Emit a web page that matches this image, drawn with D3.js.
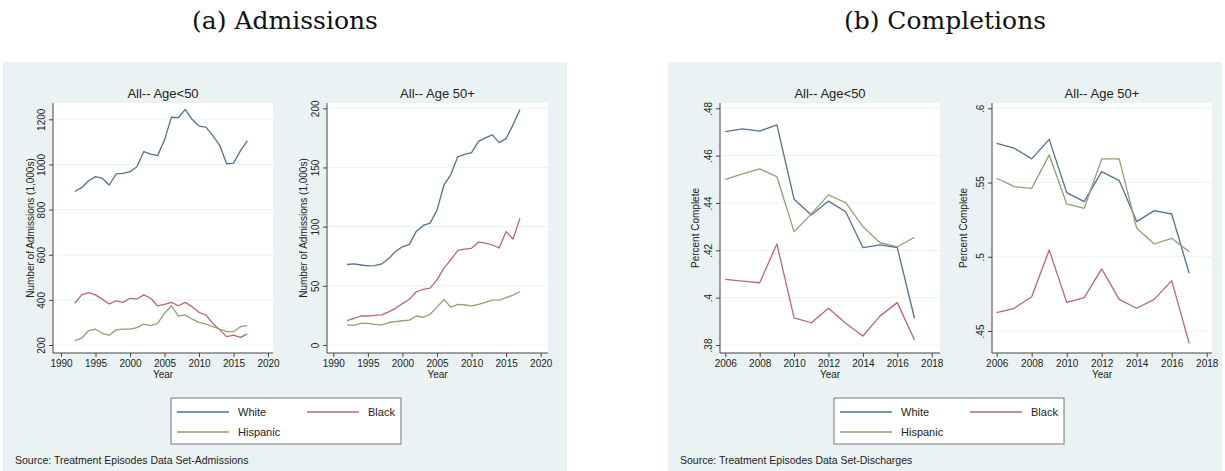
<!DOCTYPE html>
<html>
<head>
<meta charset="utf-8">
<script src="https://cdn.jsdelivr.net/npm/d3@7"></script>
<style>
  body { margin: 0; background: #ffffff; }
  svg { display: block; }
</style>
</head>
<body>
<div id="chart"></div>
<script>
// admissions, thousands, 1992-2017
var admYears = [1992, 1993, 1994, 1995, 1996, 1997, 1998, 1999, 2000, 2001, 2002, 2003, 2004,
                2005, 2006, 2007, 2008, 2009, 2010, 2011, 2012, 2013, 2014, 2015, 2016, 2017];
var admWhiteUnder50 = [880, 897, 928, 946, 938, 909, 958, 960, 968, 990, 1057, 1046, 1039,
                       1108, 1209, 1207, 1244, 1200, 1170, 1165, 1128, 1085, 1003, 1006, 1060, 1106];
var admBlackUnder50 = [385, 422, 432, 422, 402, 382, 396, 389, 407, 404, 422, 407, 373,
                       380, 389, 374, 389, 370, 345, 333, 296, 267, 237, 244, 234, 249];
var admHispUnder50 = [219, 230, 264, 270, 252, 243, 267, 270, 270, 277, 293, 286, 296,
                      340, 374, 329, 333, 315, 300, 293, 281, 270, 259, 259, 281, 286];
var admWhite50 = [68, 68.5, 67.6, 66.8, 67, 68.5, 73, 79, 83, 85, 96, 101, 103,
                  114, 135, 144, 159, 161, 162.5, 172, 175, 177.5, 171, 174.6, 186, 199];
var admBlack50 = [20.6, 22.5, 24.5, 24.5, 25, 25.4, 28, 31, 35, 38.6, 45, 47, 48,
                  55, 65, 72, 80, 81, 81.7, 87, 86, 84.5, 82, 95.8, 89.6, 107];
var admHisp50 = [17, 16.5, 18.3, 18.3, 17.5, 17, 19, 19.7, 20.5, 21, 24.5, 23.4, 26,
                 32, 38.6, 32, 34.4, 33.8, 33, 34.4, 36, 38, 38, 40, 42.2, 45];

// completion share, 2006-2017
var compYears = [2006, 2007, 2008, 2009, 2010, 2011, 2012, 2013, 2014, 2015, 2016, 2017];
var compWhiteUnder50 = [.4701, .4713, .4704, .473, .4416, .4349, .4408, .4363, .4211, .4223, .4211, .3913];
var compBlackUnder50 = [.4077, .407, .4063, .4227, .3915, .3894, .3955, .3892, .3838, .3923, .3979, .3821];
var compHispUnder50 = [.45, .4523, .4544, .4511, .4279, .4354, .4434, .4401, .43, .4232, .4215, .4255];
var compWhite50 = [.5764, .5731, .5659, .5791, .5432, .5371, .5573, .5513, .5237, .5311, .5288, .4889];
var compBlack50 = [.4624, .4653, .4731, .5046, .4693, .4725, .4918, .4713, .4653, .4713, .4839, .4417];
var compHisp50 = [.5529, .5472, .5461, .5686, .5356, .5326, .5659, .5659, .5192, .5086, .5124, .5034];

// tick values
var admXTicks = [1990, 1995, 2000, 2005, 2010, 2015, 2020];
var compXTicks = [2006, 2008, 2010, 2012, 2014, 2016, 2018];
var admYTicksUnder50 = [200, 400, 600, 800, 1000, 1200];
var admYTicks50 = [0, 50, 100, 150, 200];
var compYTicksUnder50 = [.38, .4, .42, .44, .46, .48];
var compYTicks50 = [.45, .5, .55, .6];

var seriesNames = ["White", "Black", "Hispanic"];
var seriesColors = ["#52728f", "#b7696e", "#929f72"];

var width = 1225, height = 471;
var bgColor = "#eaf2f3";
var sans = "'Liberation Sans', Arial, sans-serif";

var svg = d3.select("#chart").append("svg")
    .attr("width", width)
    .attr("height", height);

// stata style decimals: .48 not 0.48
function stataFmt(d) {
    var s = String(d);
    if (s.indexOf("0.") == 0) s = s.substring(1);
    return s;
}

var panels = [
    { x0: 3, x1: 567, title: "(a) Admissions", source: "Source: Treatment Episodes Data Set-Admissions", legendX: 171 },
    { x0: 668, x1: 1222, title: "(b) Completions", source: "Source: Treatment Episodes Data Set-Discharges", legendX: 834 }
];

var subplots = [
    { left: 53, right: 273, xr: [61, 268], yr: [345, 119.3], years: admYears, xTicks: admXTicks,
      yTicks: admYTicksUnder50, title: "All-- Age<50", yLabel: "Number of Admissions (1,000s)", yLabelX: 34,
      series: [admWhiteUnder50, admBlackUnder50, admHispUnder50] },
    { left: 327, right: 548, xr: [333.3, 540.7], yr: [345, 108.3], years: admYears, xTicks: admXTicks,
      yTicks: admYTicks50, title: "All-- Age 50+", yLabel: "Number of Admissions (1,000s)", yLabelX: 307,
      series: [admWhite50, admBlack50, admHisp50] },
    { left: 720, right: 940, xr: [725.3, 931.7], yr: [345, 108.3], years: compYears, xTicks: compXTicks,
      yTicks: compYTicksUnder50, title: "All-- Age<50", yLabel: "Percent Complete", yLabelX: 699,
      series: [compWhiteUnder50, compBlackUnder50, compHispUnder50] },
    { left: 992, right: 1212, xr: [996.7, 1206.7], yr: [331, 108.3], years: compYears, xTicks: compXTicks,
      yTicks: compYTicks50, title: "All-- Age 50+", yLabel: "Percent Complete", yLabelX: 967,
      series: [compWhite50, compBlack50, compHisp50] }
];

var plotTop = 103, plotBottom = 353;

// panel backgrounds + titles
panels.forEach(function(p) {
    svg.append("rect")
        .attr("x", p.x0).attr("y", 62)
        .attr("width", p.x1 - p.x0).attr("height", height - 62)
        .attr("fill", bgColor);

    svg.append("text")
        .attr("x", (p.x0 + p.x1) / 2)
        .attr("y", 29)
        .attr("text-anchor", "middle")
        .style("font-family", "'DejaVu Serif', serif")
        .style("font-size", "25px")
        .style("fill", "#111")
        .text(p.title);

    svg.append("text")
        .attr("x", p.x0 + 12)
        .attr("y", 464)
        .style("font-family", sans)
        .style("font-size", "10.5px")
        .style("fill", "#222")
        .text(p.source);

    // legend
    var lg = svg.append("g").attr("transform", `translate(${p.legendX}, 398)`);
    lg.append("rect")
        .attr("width", 230).attr("height", 46)
        .attr("fill", "white")
        .attr("stroke", "#777")
        .attr("stroke-width", 1);
    var slots = [[0, 0], [1, 0], [0, 1]];
    seriesNames.forEach(function(name, i) {
        var cx = slots[i][0] * 130, cy = 14 + slots[i][1] * 20;
        lg.append("line")
            .attr("x1", cx + 6).attr("x2", cx + 58)
            .attr("y1", cy).attr("y2", cy)
            .attr("stroke", seriesColors[i])
            .attr("stroke-width", 1.3);
        lg.append("text")
            .attr("x", cx + 67)
            .attr("y", cy + 4)
            .style("font-family", sans)
            .style("font-size", "11px")
            .style("fill", "#222")
            .text(name);
    });
});

subplots.forEach(function(s) {
    const xScale = d3.scaleLinear()
        .domain([s.xTicks[0], s.xTicks[s.xTicks.length - 1]])
        .range(s.xr);
    const yScale = d3.scaleLinear()
        .domain([s.yTicks[0], s.yTicks[s.yTicks.length - 1]])
        .range(s.yr);

    let g = svg.append("g");

    // plot region
    g.append("rect")
        .attr("x", s.left).attr("y", plotTop)
        .attr("width", s.right - s.left).attr("height", plotBottom - plotTop)
        .attr("fill", "white");

    // gridlines
    g.selectAll(".grid")
        .data(s.yTicks)
        .enter()
        .append("line")
            .attr("x1", s.left).attr("x2", s.right)
            .attr("y1", (d) => yScale(d)).attr("y2", (d) => yScale(d))
            .attr("stroke", bgColor)
            .attr("stroke-width", 1);

    // title
    g.append("text")
        .attr("x", (s.left + s.right) / 2)
        .attr("y", 98)
        .attr("text-anchor", "middle")
        .style("font-family", sans)
        .style("font-size", "13px")
        .style("fill", "#222")
        .text(s.title);

    // series
    s.series.forEach(function(vals, i) {
        g.append("path")
            .datum(vals)
            .attr("fill", "none")
            .attr("stroke", seriesColors[i])
            .attr("stroke-width", 1.3)
            .attr("stroke-linejoin", "round")
            .attr("d", d3.line()
                .x((d, j) => xScale(s.years[j]))
                .y((d) => yScale(d)));
    });

    // x-axis
    let xAxis = g.append("g")
        .attr("transform", `translate(0, ${plotBottom})`)
        .call(d3.axisBottom(xScale).tickValues(s.xTicks).tickSize(4).tickPadding(3).tickFormat(d3.format("d")));
    xAxis.select(".domain").remove();
    xAxis.append("line")
        .attr("x1", s.left).attr("x2", s.right)
        .attr("stroke", "#444");
    xAxis.selectAll(".tick line").attr("stroke", "#444");
    xAxis.selectAll("text")
        .style("font-family", sans)
        .style("font-size", "10px")
        .style("fill", "#222");

    // y-axis, labels rotated like stata
    let yAxis = g.append("g")
        .attr("transform", `translate(${s.left}, 0)`)
        .call(d3.axisLeft(yScale).tickValues(s.yTicks).tickSize(4).tickFormat(stataFmt));
    yAxis.select(".domain").remove();
    yAxis.append("line")
        .attr("y1", plotTop).attr("y2", plotBottom)
        .attr("stroke", "#444");
    yAxis.selectAll(".tick line").attr("stroke", "#444");
    yAxis.selectAll("text")
        .attr("transform", "rotate(-90)")
        .attr("x", 0)
        .attr("y", -8)
        .attr("dy", null)
        .attr("text-anchor", "middle")
        .style("font-family", sans)
        .style("font-size", "10px")
        .style("fill", "#222");

    // axis titles
    g.append("text")
        .attr("x", (s.left + s.right) / 2)
        .attr("y", 378)
        .attr("text-anchor", "middle")
        .style("font-family", sans)
        .style("font-size", "10px")
        .style("fill", "#222")
        .text("Year");

    g.append("text")
        .attr("transform", `translate(${s.yLabelX}, ${(plotTop + plotBottom) / 2}) rotate(-90)`)
        .attr("text-anchor", "middle")
        .style("font-family", sans)
        .style("font-size", "10px")
        .style("fill", "#222")
        .text(s.yLabel);
});
</script>
</body>
</html>
